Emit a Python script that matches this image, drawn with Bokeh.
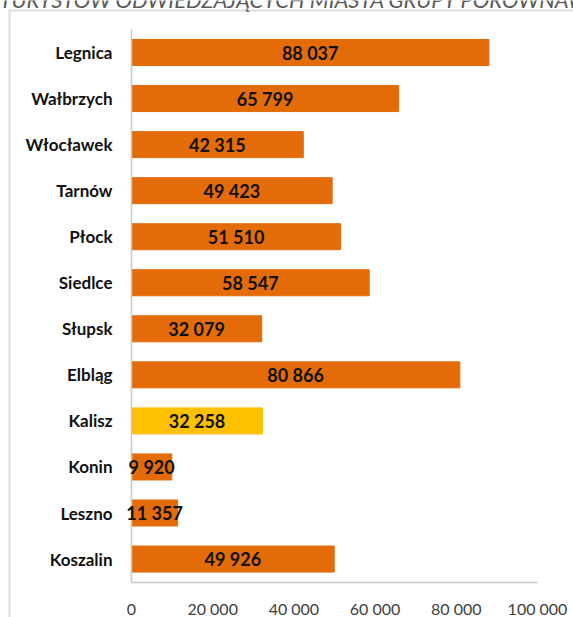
from bokeh.plotting import figure
from bokeh.models import Range1d, FixedTicker, Label, BoxAnnotation, ColumnDataSource
from bokeh.core.properties import value
from bokeh.embed import file_html
from bokeh.resources import INLINE

# ---- data ----
cities = ["Legnica", "Wałbrzych", "Włocławek", "Tarnów", "Płock", "Siedlce",
          "Słupsk", "Elbląg", "Kalisz", "Konin", "Leszno", "Koszalin"]
tourists = [88037, 65799, 42315, 49423, 51510, 58547,
            32079, 80866, 32258, 9920, 11357, 49926]
highlight = "Kalisz"
x_ticks = [0, 20000, 40000, 60000, 80000, 100000]
x_tick_labels = ["0", "20 000", "40 000", "60 000", "80 000", "100 000"]
title_text = "TURYSTÓW ODWIEDZAJĄCYCH MIASTA GRUPY PORÓWNAWCZEJ"

ORANGE = "#E36C09"
YELLOW = "#FFC000"

# ---- layout (pixels) ----
W, H = 573, 617
AX_LEFT_PX, AX_RIGHT_PX = 131, 537      # x = 0 and x = x_ticks[-1]
ROW_PX = 46.05                           # height of one category band
FIRST_ROW_PX = 52                        # centre of first category from top

def fmt(v):
    return f"{v:,}".replace(",", " ")

n = len(cities)
rows = list(range(n))
xmax = x_ticks[-1]
u_per_px = xmax / (AX_RIGHT_PX - AX_LEFT_PX)
x_range = Range1d(-AX_LEFT_PX * u_per_px, (W - AX_LEFT_PX) * u_per_px)
y_top = -FIRST_ROW_PX / ROW_PX
y_range = Range1d(y_top + H / ROW_PX, y_top)

src = ColumnDataSource(dict(
    row=rows,
    val=tourists,
    mid=[v / 2 for v in tourists],
    lab=[fmt(v) for v in tourists],
    col=[YELLOW if c == highlight else ORANGE for c in cities],
))

p = figure(width=W, height=H, output_backend="svg", toolbar_location=None, title=None,
           x_range=x_range, y_range=y_range,
           min_border=0, min_border_left=0, min_border_right=0, min_border_top=0, min_border_bottom=0)
p.outline_line_color = None
p.xgrid.grid_line_color = None
p.ygrid.grid_line_color = None
p.background_fill_color = "white"
p.border_fill_color = "white"

p.hbar(y="row", right="val", left=0, height=0.565, fill_color="col", line_color="col",
       source=src)
p.text(x="mid", y="row", text="lab", source=src, text_align="center", text_baseline="middle",
       text_font=value("Lato"), text_font_style="bold", text_font_size="18px", text_color="#111111",
       level="overlay")

for ax in (p.xaxis[0], p.yaxis[0]):
    ax.axis_line_color = "#C8C8C8"
    ax.axis_line_width = 1.5
    ax.major_tick_line_color = None
    ax.minor_tick_line_color = None
    ax.major_tick_out = 0
    ax.major_tick_in = 0

yax = p.yaxis[0]
yax.fixed_location = 0
yax.bounds = (-0.5, n - 0.5)
yax.ticker = FixedTicker(ticks=rows)
yax.major_label_overrides = {i: c for i, c in zip(rows, cities)}
yax.major_label_text_font = "Lato"
yax.major_label_text_font_style = "bold"
yax.major_label_text_font_size = "17px"
yax.major_label_text_color = "#111111"
yax.major_label_standoff = 19

xax = p.xaxis[0]
xax.fixed_location = n - 0.5
xax.bounds = (0, xmax)
xax.ticker = FixedTicker(ticks=x_ticks)
xax.major_label_overrides = dict(zip(x_ticks, x_tick_labels))
xax.major_label_text_font = "Lato"
xax.major_label_text_font_size = "16px"
xax.major_label_text_color = "#404040"
xax.major_label_standoff = 17

# outer chart-area border (left and top edges visible)
border = BoxAnnotation(left=9, right=W + 50, top=10, bottom=H + 50,
                       left_units="canvas", right_units="canvas",
                       top_units="canvas", bottom_units="canvas",
                       fill_alpha=0, line_color="#8C8C8C", line_width=2)
p.add_layout(border)

title = Label(x=-1, y=-1, x_units="canvas", y_units="canvas", text=title_text,
              text_font="Lato", text_font_style="italic", text_font_size="22px",
              text_color="#595959", text_baseline="alphabetic", text_align="left")
p.add_layout(title)

open("out.html", "w").write(file_html(p, INLINE))
